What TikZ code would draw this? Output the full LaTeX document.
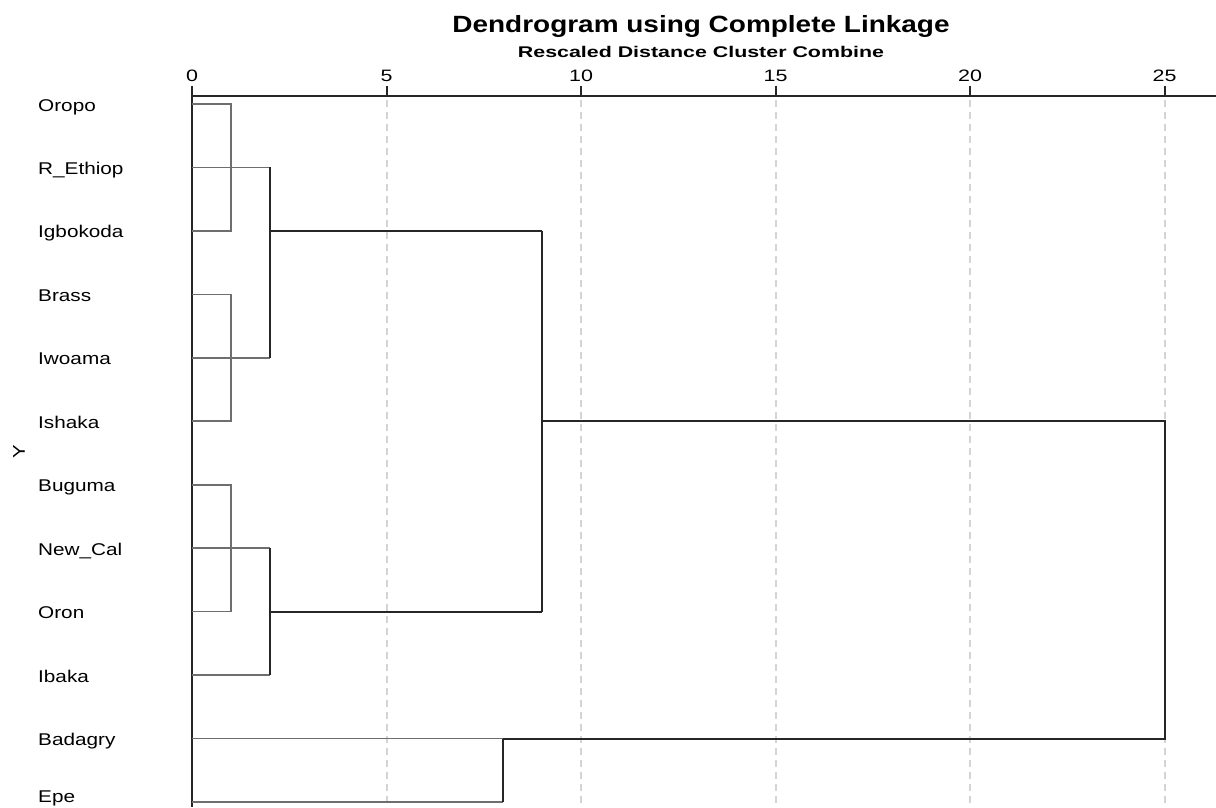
\documentclass[tikz,border=0pt]{standalone}
\usepackage{fontspec}
\setmainfont{Liberation Sans}
\usepackage{tikz}

\definecolor{linkdark}{HTML}{262626}
\definecolor{leafgray}{HTML}{6E6E6E}
\definecolor{gridgray}{HTML}{D4D4D4}

% text drawn wider than the font gives it
\newcommand{\wtext}[2]{\scalebox{#1}[1]{#2}}

\begin{document}
\begin{tikzpicture}[x=1pt,y=-1pt]
  \tikzstyle{every node}=[inner sep=0pt,font=\fontsize{17}{17}\selectfont]
  \tikzstyle{leaf}=[anchor=base west]
  \tikzstyle{tick}=[anchor=base,font=\fontsize{16.5}{17}\selectfont]
  \tikzstyle{leafline}=[draw=leafgray,line width=1.7pt]
  \tikzstyle{link}=[draw=linkdark,line width=2pt]
  \tikzstyle{gridline}=[draw=gridgray,line width=2pt,dash pattern=on 7pt off 5pt]

  \useasboundingbox (0,0) rectangle (1216,807);

  % titles
  \node[anchor=base] (title) at (701,32) {\fontsize{23.5}{24}\selectfont\bfseries\wtext{1.19}{Dendrogram using Complete Linkage}};
  \node[anchor=base] (subtitle) at (701,57) {\fontsize{15.5}{16}\selectfont\bfseries\wtext{1.38}{Rescaled Distance Cluster Combine}};
  \node[rotate=90] (ylab) at (19,452) {\wtext{1.2}{Y}};

  % axis, ticks and grid
  \coordinate (ax0) at (192,96);
  \coordinate (axend) at (1216,96);
  \foreach \v in {0,5,...,25} {
    \coordinate (t\v) at ({192+38.9*\v},96);
    \draw[link] (t\v) -- ++(0,-10);
    \node[tick] (lab\v) at ({192+38.9*\v},81) {\wtext{1.3}{\v}};
  }
  \foreach \v in {5,10,...,25}
    \draw[gridline] ({192+38.9*\v},100) -- ({192+38.9*\v},807);
  \draw[link] (ax0) -- (axend);
  \draw[link,line width=2.6pt] (ax0) ++(0,-10) -- (192,807);

  % leaves (the last label kept inside the page)
  \foreach \lab/\id [count=\i from 0] in {Oropo/oropo,R\_Ethiop/rethiop,Igbokoda/igbokoda,
      Brass/brass,Iwoama/iwoama,Ishaka/ishaka,Buguma/buguma,New\_Cal/newcal,
      Oron/oron,Ibaka/ibaka,Badagry/badagry,Epe/epe} {
    \pgfmathsetmacro\ly{min(111+63.45*\i,802)}
    \node[leaf] (\id) at (38,\ly) {\wtext{1.22}{\lab}};
    \coordinate (\id-0) at (192,{104+63.45*\i});
  }

  % merge heights
  \coordinate (d1) at ({192+38.9*1},0);
  \coordinate (d2) at ({192+38.9*2},0);
  \coordinate (d8) at ({192+38.9*8},0);
  \coordinate (d9) at ({192+38.9*9},0);
  \coordinate (d25) at ({192+38.9*25},0);

  % level 1
  \draw[leafline] (oropo-0) -- (oropo-0 -| d1) -- (igbokoda-0 -| d1) -- (igbokoda-0);
  \draw[leafline] (brass-0) -- (brass-0 -| d1) -- (ishaka-0 -| d1) -- (ishaka-0);
  \draw[leafline] (buguma-0) -- (buguma-0 -| d1) -- (oron-0 -| d1) -- (oron-0);
  \draw[leafline] (rethiop-0) -- (rethiop-0 -| d2);
  \draw[leafline] (iwoama-0) -- (iwoama-0 -| d2);
  \draw[leafline] (newcal-0) -- (newcal-0 -| d2);
  \draw[leafline] (ibaka-0) -- (ibaka-0 -| d2);
  \draw[leafline] (badagry-0) -- (badagry-0 -| d8);
  \draw[leafline] (epe-0) -- (epe-0 -| d8);

  % level 2
  \draw[link] (rethiop-0 -| d2) -- (iwoama-0 -| d2);
  \draw[link] (newcal-0 -| d2) -- (ibaka-0 -| d2);
  \draw[link] (badagry-0 -| d8) -- (epe-0 -| d8);
  \draw[link] (igbokoda-0 -| d2) -- (igbokoda-0 -| d9);
  \draw[link] (oron-0 -| d2) -- (oron-0 -| d9);

  % top
  \draw[link] (igbokoda-0 -| d9) -- (oron-0 -| d9);
  \draw[link] (ishaka-0 -| d9) -- (ishaka-0 -| d25) -- (badagry-0 -| d25) -- (badagry-0 -| d8);
\end{tikzpicture}
\end{document}
